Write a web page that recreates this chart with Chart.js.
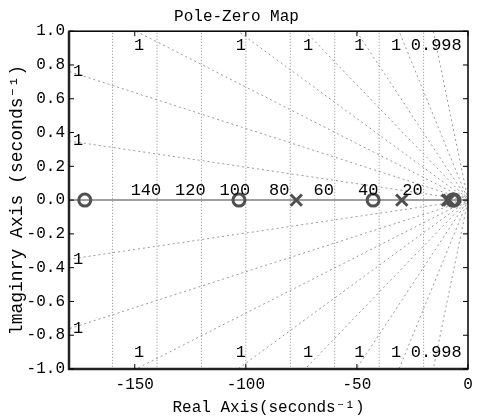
<!DOCTYPE html>
<html>
<head>
<meta charset="utf-8">
<script src="https://cdn.jsdelivr.net/npm/chart.js@4.4.1/dist/chart.umd.min.js"></script>
<style>
  html, body { margin: 0; padding: 0; background: #fff; }
  #wrap { width: 479px; height: 420px; }
</style>
</head>
<body>
<div id="wrap"><canvas id="pzmap"></canvas></div>
<script>
// poles and zeros (real axis, imaginary part 0)
const poles = [-77.3, -29.8, -9.3, -8.6];
const zeros = [-172.5, -103.1, -42.7, -6.9, -6.3];

const xTicks = [-150, -100, -50, 0];
const yTicks = [-1, -0.8, -0.6, -0.4, -0.2, 0, 0.2, 0.4, 0.6, 0.8, 1];

// sgrid: natural frequency circles and damping ratio rays
const wnGrid = [160, 140, 120, 100, 80, 60, 40, 20];
const wnLabeled = [140, 120, 100, 80, 60, 40, 20];
const zetaValues = [0.9999981, 0.999991, 0.9999776, 0.9999534, 0.999907, 0.999802, 0.999482, 0.99796];
const zetaLabels = ['1', '1', '1', '1', '1', '1', '1', '0.998'];

const MONO = '"Liberation Mono", "DejaVu Sans Mono", monospace';
const GRID = '#9a9a9a';
const MARK = '#505050';

const slopeOf = z => Math.sqrt(1 - z * z) / z;

const datasets = [];

datasets.push({
    label: 'poles',
    data: poles.map(p => ({ x: p, y: 0 })),
    pointStyle: 'crossRot',
    pointRadius: 8,
    borderWidth: 3,
    borderColor: MARK,
    order: 0
});
datasets.push({
    label: 'zeros',
    data: zeros.map(p => ({ x: p, y: 0 })),
    pointStyle: 'circle',
    pointRadius: 6,
    borderWidth: 3,
    borderColor: MARK,
    backgroundColor: 'rgba(0,0,0,0)',
    order: 0
});

zetaValues.forEach(z => {
    const s = slopeOf(z);
    const far = -400;
    datasets.push({
        label: 'zeta ' + z,
        data: [{ x: far, y: -far * s }, { x: 0, y: 0 }, { x: far, y: far * s }],
        showLine: true,
        pointRadius: 0,
        borderColor: GRID,
        borderWidth: 1,
        borderDash: [2, 3],
        order: 2
    });
});

wnGrid.forEach(wn => {
    const ys = [-1.2, -0.6, 0, 0.6, 1.2];
    datasets.push({
        label: 'wn ' + wn,
        data: ys.map(v => ({ x: -Math.sqrt(wn * wn - v * v), y: v })),
        showLine: true,
        pointRadius: 0,
        borderColor: '#8a8a8a',
        borderWidth: 1,
        borderDash: [1, 2],
        order: 2
    });
});

const pzDecor = {
    id: 'pzDecor',
    beforeDatasetsDraw(chart) {
        const { ctx, chartArea: a, scales: { y } } = chart;
        const y0 = y.getPixelForValue(0);
        ctx.save();
        ctx.strokeStyle = '#7f7f7f';
        ctx.lineWidth = 1.5;
        ctx.beginPath();
        ctx.moveTo(a.left, y0);
        ctx.lineTo(a.right, y0);
        ctx.stroke();
        ctx.restore();
    },
    afterDatasetsDraw(chart) {
        const { ctx, chartArea: a, scales: { x, y } } = chart;
        ctx.save();
        ctx.font = '17px ' + MONO;
        ctx.fillStyle = '#000';
        ctx.textAlign = 'center';
        ctx.textBaseline = 'middle';

        const y0 = y.getPixelForValue(0);
        wnLabeled.forEach(wn => {
            ctx.fillText(String(wn), x.getPixelForValue(-wn) - 11, y0 - 10);
        });

        zetaValues.forEach((z, i) => {
            const s = slopeOf(z);
            const yEdge = -s * x.min;
            if (yEdge <= y.max) {
                ctx.fillText(zetaLabels[i], a.left + 9, y.getPixelForValue(yEdge));
                ctx.fillText(zetaLabels[i], a.left + 9, y.getPixelForValue(-yEdge));
            } else {
                const px = x.getPixelForValue(-y.max / s) + (i === zetaValues.length - 2 ? -3 : 3);
                ctx.fillText(zetaLabels[i], px, a.top + 14);
                ctx.fillText(zetaLabels[i], px, a.bottom - 17);
            }
        });

        // frame
        ctx.strokeStyle = '#000';
        ctx.lineWidth = 1.5;
        ctx.strokeRect(a.left, a.top, a.right - a.left, a.bottom - a.top);
        ctx.strokeStyle = '#222';
        ctx.lineWidth = 2.5;
        ctx.beginPath();
        ctx.moveTo(a.left, a.top);
        ctx.lineTo(a.left, a.bottom);
        ctx.lineTo(a.right, a.bottom);
        ctx.stroke();

        // inward ticks
        ctx.lineWidth = 1;
        ctx.strokeStyle = '#000';
        ctx.beginPath();
        yTicks.forEach(v => {
            const py = y.getPixelForValue(v);
            ctx.moveTo(a.left, py); ctx.lineTo(a.left + 5, py);
            ctx.moveTo(a.right, py); ctx.lineTo(a.right - 5, py);
        });
        xTicks.forEach(v => {
            const px = x.getPixelForValue(v);
            ctx.moveTo(px, a.bottom); ctx.lineTo(px, a.bottom - 5);
            ctx.moveTo(px, a.top); ctx.lineTo(px, a.top + 5);
        });
        ctx.stroke();
        ctx.restore();
    }
};

new Chart(document.getElementById('pzmap'), {
    type: 'scatter',
    data: { datasets: datasets },
    options: {
        responsive: true,
        maintainAspectRatio: false,
        animation: false,
        layout: { padding: { right: 6 } },
        plugins: {
            legend: { display: false },
            tooltip: { enabled: false },
            title: {
                display: true,
                text: 'Pole-Zero Map',
                color: '#000',
                font: { family: MONO, size: 16, weight: 'normal' },
                padding: { top: 7, bottom: 5 }
            }
        },
        scales: {
            x: {
                type: 'linear',
                min: -179.6,
                max: 0,
                grid: { display: false, drawTicks: false },
                border: { display: false },
                afterBuildTicks: s => { s.ticks = xTicks.map(v => ({ value: v })); },
                afterFit: s => { s.height = 51; },
                ticks: {
                    color: '#000',
                    padding: 6,
                    maxRotation: 0,
                    font: { family: MONO, size: 16 },
                    callback: v => String(v)
                },
                title: {
                    display: true,
                    text: 'Real Axis(seconds⁻¹)',
                    color: '#000',
                    font: { family: MONO, size: 16 },
                    padding: { top: 0, bottom: 3 }
                }
            },
            y: {
                type: 'linear',
                min: -1,
                max: 1,
                grid: { display: false, drawTicks: false },
                border: { display: false },
                afterBuildTicks: s => { s.ticks = yTicks.map(v => ({ value: v })); },
                afterFit: s => { s.width = 69; },
                ticks: {
                    color: '#000',
                    padding: 4,
                    font: { family: MONO, size: 16 },
                    callback: v => v.toFixed(1)
                },
                title: {
                    display: true,
                    text: 'lmaginry Axis (seconds⁻¹)',
                    color: '#000',
                    font: { family: MONO, size: 18 },
                    padding: { top: 6, bottom: 0 }
                }
            }
        }
    },
    plugins: [pzDecor]
});
</script>
</body>
</html>
